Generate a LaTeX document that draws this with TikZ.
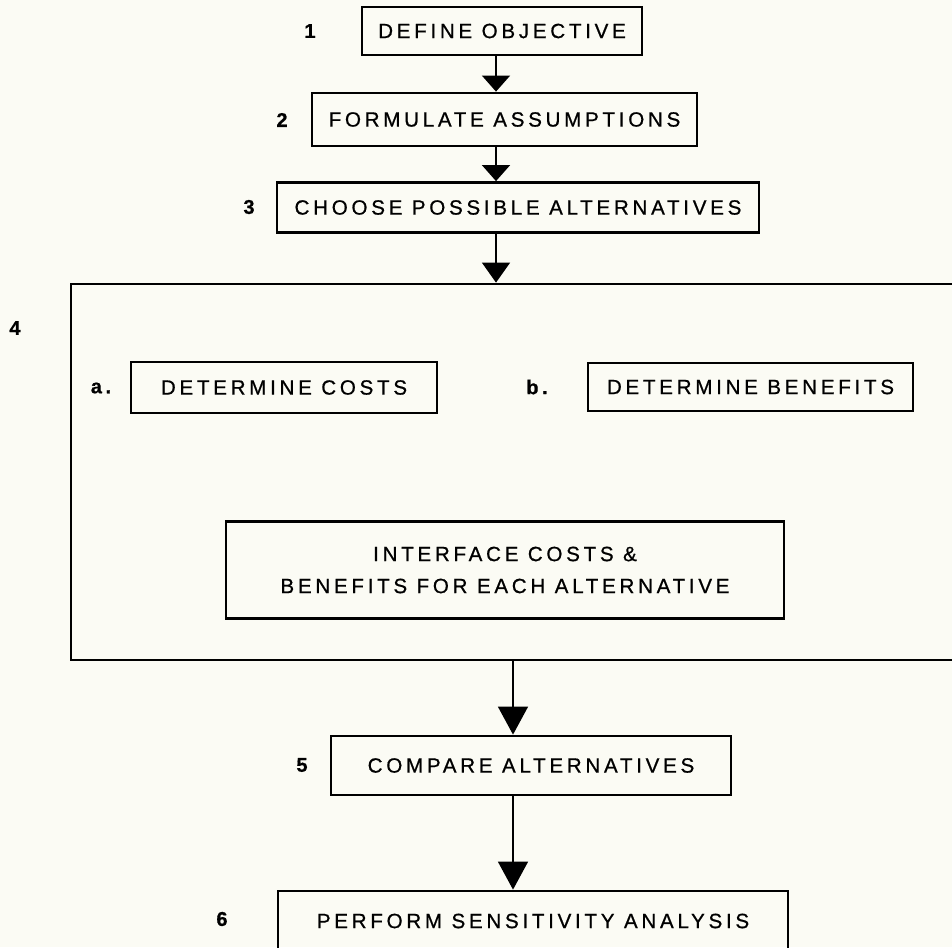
\documentclass[tikz,border=0pt]{standalone}
\usepackage{fontspec}
\setmainfont{Liberation Sans}[LetterSpace=18, FakeBold=0.7]
\usepackage{xcolor}
\usetikzlibrary{arrows.meta, positioning}
\definecolor{paper}{RGB}{251,251,244}

\begin{document}
\begin{tikzpicture}[x=0.5pt, y=-0.5pt, >={Triangle[width=14pt,length=8pt]}, line width=0.7pt]
	\tikzstyle{stepbox}=[rectangle, draw, line width=1.4pt, align=center, inner sep=0pt, font=\fontsize{10.3}{16}\selectfont]
	\tikzstyle{tag}=[inner sep=0pt, font=\fontsize{10}{12}\selectfont\bfseries]
	\tikzstyle{longarrow}=[-{Triangle[width=15pt,length=14pt]}]
	\useasboundingbox (0,0) rectangle (952,947);
	\fill[paper] (0,0) rectangle (952,947);
	\clip (0,0) rectangle (952,947);
	\coordinate (spine) at (496,0);
	\coordinate (lowspine) at (513,0);
	% steps 1 to 3
	\node[stepbox, minimum width=140pt, minimum height=24pt](objective) at (502,31)
		{DEFINE OBJECTIVE};
	\node[stepbox, minimum width=192.5pt, minimum height=26.5pt](assumptions) at (504.5,119.5)
		{FORMULATE ASSUMPTIONS};
	\node[stepbox, minimum width=241pt, minimum height=25pt](alternatives) at (518,207.5)
		{CHOOSE POSSIBLE ALTERNATIVES};
	% step 4, the large frame and what is in it
	\node[rectangle, draw, line width=1.4pt, minimum width=454.5pt, minimum height=188pt](analysis) at (525.5,472) {};
	\node[stepbox, minimum width=153pt, minimum height=25.5pt](costs) at (284,387.5)
		{DETERMINE COSTS};
	\node[stepbox, minimum width=162.5pt, minimum height=24pt](benefits) at (750.5,387)
		{DETERMINE BENEFITS};
	\node[stepbox, minimum width=279pt, minimum height=48.5pt](interface) at (505,570)
		{INTERFACE COSTS \&\\ BENEFITS FOR EACH ALTERNATIVE};
	% steps 5 and 6
	\node[stepbox, minimum width=200pt, minimum height=29.5pt](compare) at (531,765.5)
		{COMPARE ALTERNATIVES};
	\node[stepbox, minimum width=255pt, minimum height=30pt](sensitivity) at (533,921)
		{PERFORM SENSITIVITY ANALYSIS};
	% numbers
	\node[tag](n1) at (310,31) {1};
	\node[tag](n2) at (282,120) {2};
	\node[tag](n3) at (249,207) {3};
	\node[tag](n4) at (15,328) {4};
	\node[tag](na) at (101,388) {a.};
	\node[tag](nb) at (537,387) {b.};
	\node[tag](n5) at (302,765) {5};
	\node[tag](n6) at (222,919) {6};
	% connectors
	\draw[->] (objective.south -| spine) -- (assumptions.north -| spine);
	\draw[->] (assumptions.south -| spine) -- (alternatives.north -| spine);
	\draw[-{Triangle[width=14pt,length=10pt]}] (alternatives.south -| spine) -- (analysis.north -| spine);
	\draw[longarrow] (analysis.south -| lowspine) -- (compare.north -| lowspine);
	\draw[longarrow] (compare.south -| lowspine) -- (sensitivity.north -| lowspine);
\end{tikzpicture}
\end{document}
